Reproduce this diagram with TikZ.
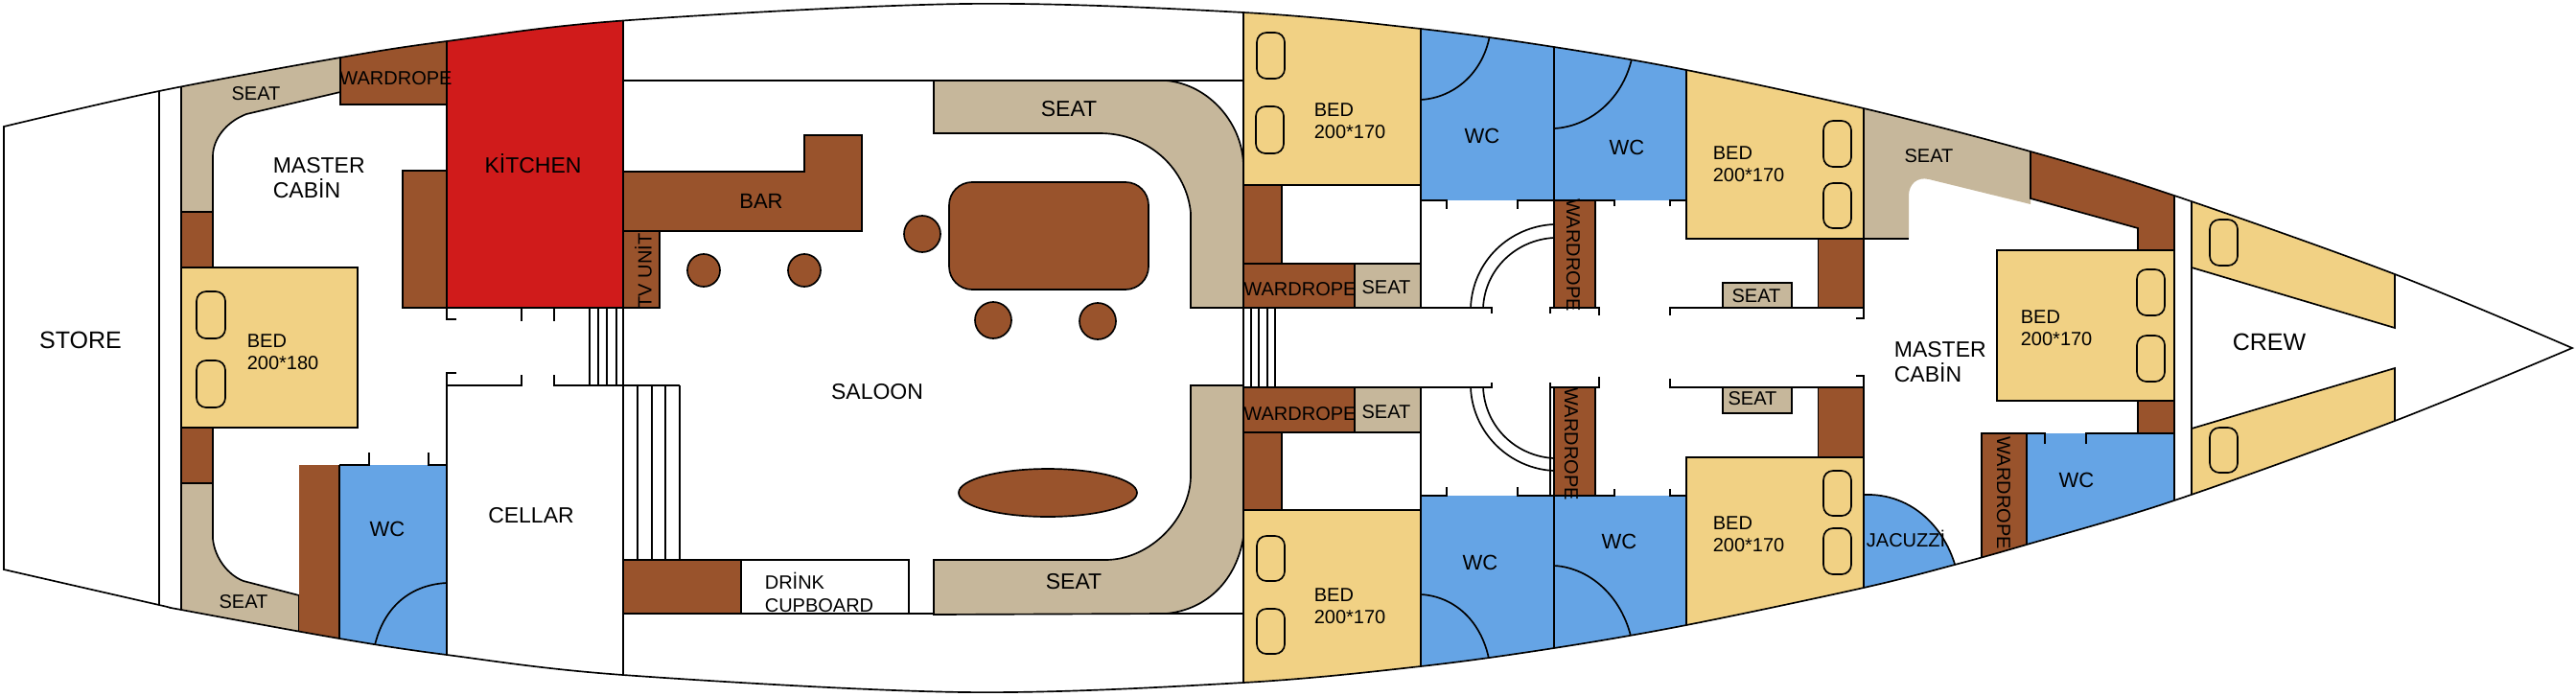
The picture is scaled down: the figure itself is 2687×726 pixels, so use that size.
\documentclass[tikz,border=0pt]{standalone}
\usepackage{fontspec}
\setmainfont{Liberation Sans}

\definecolor{woodbrown}{RGB}{153,83,44}
\definecolor{galleyred}{RGB}{208,27,27}
\definecolor{bedyellow}{RGB}{241,209,132}
\definecolor{seattan}{RGB}{198,183,155}
\definecolor{wcblue}{RGB}{101,164,229}

\tikzset{every picture/.style={line width=1.25pt}}
\tikzset{
  wood/.style={draw,fill=woodbrown},
  berth/.style={draw,fill=bedyellow},
  seatpart/.style={draw,fill=seattan},
  pillow/.style={draw,rounded corners=7.5},
  stool/.style={draw,fill=woodbrown},
  lbl/.style={inner sep=0.75pt,yshift=-1pt,font=\fontsize{15}{18}\selectfont},
  wclbl/.style={inner sep=0.75pt,yshift=-1pt,font=\fontsize{16.5}{18}\selectfont},
  midlbl/.style={inner sep=0.75pt,yshift=-1pt,font=\fontsize{17.25}{19.5}\selectfont},
  biglbl/.style={inner sep=0.75pt,yshift=-1pt,font=\fontsize{18.75}{21}\selectfont},
  bedlbl/.style={lbl,anchor=west,align=left,font=\fontsize{15}{17.25}\selectfont}
}
\newcommand{\hullpath}{plot [smooth,tension=0.55] coordinates {(4,132) (166,95) (355,60) (466,43) (650,21.5) (1006,4) (1297,13) (1482,30) (1621,49) (1759,73) (1944,113) (2118,158) (2268,204) (2498,286) (2683,363)}
  -- plot [smooth,tension=0.55] coordinates {(2683,363) (2498,439) (2268,522) (2114,568) (2039,589) (1944,613) (1759,652) (1621,676) (1482,695) (1297,712) (1006,722) (650,704) (466,683) (354,666) (189,636) (166,631) (4,594)} -- cycle}

\begin{document}
\begin{tikzpicture}[x=0.75pt,y=0.75pt,yscale=-1,xscale=1]
\useasboundingbox (0,0) rectangle (2687,726);

\begin{scope}
\clip \hullpath;
%Straight Lines: store bulkheads
\draw (166,0) -- (166,726);
\draw (650,402) -- (650,726);
\draw (466,402) -- (466,726);
\draw (2268,0) -- (2268,726);
\draw (2286,0) -- (2286,726);
%Shape: aft cabin seats
\draw [seatpart] (189,0) -- (355,0) -- (355,96) -- (257,119) .. controls (236,127) and (222,145) .. (222,163) -- (222,221) -- (189,221) -- cycle;
\draw [seatpart] (189,726) -- (189,504) -- (222,504) -- (222,562) .. controls (224,582) and (238,600) .. (254,606) -- (312,621) -- (312,726) -- cycle;
\draw [wood] (189,221) rectangle (222,279);
\draw [wood] (189,446) rectangle (222,504);
\draw [wood] (355,0) rectangle (466,109);
\draw [wood] (420,178) rectangle (466,321);
%Shape: Kitchen
\draw [draw,fill=galleyred] (466,0) rectangle (650,321);
%Shape: aft bed
\draw [berth] (189,279) rectangle (373,446);
\draw [pillow] (205,304) rectangle (235,353);
\draw [pillow] (205,376) rectangle (235,425);
%Shape: aft WC
\fill [woodbrown] (312,485) rectangle (354,726);
\fill [wcblue] (354,485) rectangle (466,726);
\draw (354,485) -- (354,726);
\draw (466,402) -- (466,726);
\draw (385,472) -- (385,485) -- (354,485);
\draw (447,472) -- (447,485) -- (466,485);
\draw (466,608) .. controls (426,610) and (394,636) .. (388,690);
%Straight Lines: saloon sides
\draw (650,84) -- (1297,84);
\draw (650,640) -- (1297,640);
%Shape: Bar
\draw [wood] (650,179) -- (839,179) -- (839,141) -- (899,141) -- (899,241) -- (650,241) -- cycle;
\draw [wood] (650,241) rectangle (688,321);
\draw [stool] (734,282) circle (17);
\draw [stool] (839,282) circle (17);
\draw [stool] (962,244) circle (19);
\draw [stool] (1036,334) circle (19);
\draw [stool] (1145,335) circle (19);
\draw [wood,rounded corners=18] (990,190) rectangle (1198,302);
\draw [wood] (1093,514) ellipse (93 and 25);
%Shape: saloon seats
\draw [seatpart] (974,84) -- (1216,84) .. controls (1262,88) and (1297,130) .. (1297,174) -- (1297,321) -- (1242,321) -- (1242,222) .. controls (1238,178) and (1200,139) .. (1147,139) -- (974,139) -- cycle;
\draw [seatpart] (974,584) -- (1153,584) .. controls (1200,584) and (1242,540) .. (1242,496) -- (1242,402) -- (1297,402) -- (1297,560) .. controls (1290,604) and (1260,636) .. (1216,640) -- (974,641) -- cycle;
\draw [wood] (650,584) rectangle (773,640);
\draw (773,584) rectangle (948,640);
%Shape: midship beds and wardrobes
\draw [berth] (1297,0) rectangle (1482,193);
\draw [pillow] (1311,34) rectangle (1340,82);
\draw [pillow] (1310,111) rectangle (1339,160);
\draw [wood] (1297,193) rectangle (1337,275);
\draw [wood] (1297,275) rectangle (1413,321);
\draw [seatpart] (1413,275) rectangle (1482,321);
\draw [wood] (1297,404) rectangle (1413,451);
\draw [seatpart] (1413,404) rectangle (1482,451);
\draw [wood] (1297,451) rectangle (1337,532);
\draw [berth] (1297,532) rectangle (1482,726);
\draw [pillow] (1311,559) rectangle (1340,606);
\draw [pillow] (1311,635) rectangle (1340,682);
%Shape: midship WCs
\fill [wcblue] (1482,0) rectangle (1759,209);
\fill [wcblue] (1482,517) rectangle (1759,726);
\draw (1482,0) -- (1482,321);
\draw (1482,404) -- (1482,726);
\draw [line width=1.5pt] (1621,0) -- (1621,209);
\draw [line width=1.5pt] (1621,517) -- (1621,726);
\draw (1482,104) .. controls (1518,102) and (1550,74) .. (1555,30);
\draw (1621,134) .. controls (1660,132) and (1698,100) .. (1704,50);
\draw (1482,620) .. controls (1518,622) and (1550,650) .. (1555,700);
\draw (1621,590) .. controls (1660,592) and (1698,626) .. (1704,680);
%Straight Lines: door stops at the passage
\draw (1482,209) -- (1509,209) -- (1509,218);
\draw (1583,218) -- (1583,209) -- (1621,209);
\draw (1664,209) -- (1684,209) -- (1684,215);
\draw (1742,215) -- (1742,209) -- (1759,209);
\draw (1482,517) -- (1509,517) -- (1509,508);
\draw (1583,508) -- (1583,517) -- (1621,517);
\draw (1664,517) -- (1684,517) -- (1684,510);
\draw (1742,510) -- (1742,517) -- (1759,517);
\draw (1482,321) -- (1556,321) -- (1556,327);
\draw (1617,327) -- (1617,321) -- (1668,321) -- (1668,329);
\draw (1742,329) -- (1742,321) -- (1944,321) -- (1944,332) -- (1936,332);
\draw (1482,404) -- (1556,404) -- (1556,399);
\draw (1617,517) -- (1617,399);
\draw (1617,404) -- (1668,404) -- (1668,393);
\draw (1742,395) -- (1742,404) -- (1944,404) -- (1944,392) -- (1936,392);
\draw [wood] (1621,209) rectangle (1664,321);
\draw [wood] (1621,404) rectangle (1664,517);
%Curve Lines: passage arcs
\draw (1621,234) .. controls (1575,236) and (1536,272) .. (1534,321);
\draw (1621,248) .. controls (1582,250) and (1549,280) .. (1547,321);
\draw (1621,478) .. controls (1582,476) and (1549,446) .. (1547,404);
\draw (1621,491) .. controls (1575,489) and (1536,452) .. (1534,404);
%Shape: forward beds
\draw [berth] (1759,0) rectangle (1944,249);
\draw [pillow] (1902,126) rectangle (1931,174);
\draw [pillow] (1902,191) rectangle (1931,238);
\draw [wood] (1896.5,249) rectangle (1944,321);
\draw [seatpart] (1797,295) rectangle (1869,321);
\draw [berth] (1759,477) rectangle (1944,726);
\draw [pillow] (1902,491) rectangle (1931,538);
\draw [pillow] (1902,551) rectangle (1931,599);
\draw [wood] (1896.5,404) rectangle (1944,477);
\draw [seatpart] (1797,404) rectangle (1869,431);
%Shape: Jacuzzi
\draw [fill=wcblue] (1944,726) -- (1944,516) .. controls (1995,514) and (2032,552) .. (2042,600) -- (2042,726) -- cycle;
%Shape: master cabin forward
\draw [seatpart,draw=none] (1944,0) -- (2118,0) -- (2118,213) -- (2012,187) .. controls (2000,184) and (1991,192) .. (1991,204) -- (1991,249) -- (1944,249) -- cycle;
\draw (1944,249) -- (1991,249);
\draw (1944,0) -- (1944,249);
\draw [wood] (2118,0) -- (2268,0) -- (2268,261) -- (2230,261) -- (2230,238) -- (2118,207) -- cycle;
\draw [wood] (2230,418) rectangle (2268,452);
\draw [berth] (2083,261) rectangle (2268,418);
\draw [pillow] (2229,281) rectangle (2258,329);
\draw [pillow] (2229,350) rectangle (2258,398);
\draw [wood] (2067,452) rectangle (2114,726);
\fill [wcblue] (2114,452) rectangle (2268,726);
\draw (2114,452) -- (2114,726);
\draw (2268,452) -- (2268,726);
\draw (2114,452) -- (2133,452) -- (2133,463);
\draw (2176,463) -- (2176,452) -- (2268,452);
%Shape: crew berths
\draw [berth] (2286,100) -- (2498,100) -- (2498,342) -- (2286,279) -- cycle;
\draw [berth] (2286,447) -- (2498,384) -- (2498,600) -- (2286,600) -- cycle;
\draw [pillow] (2305,229) rectangle (2334,277);
\draw [pillow] (2305,446) rectangle (2334,493);
%Straight Lines: cellar top and stairs
\draw (476,389) -- (466,389) -- (466,402) -- (544,402) -- (544,391);
\draw (578,391) -- (578,402) -- (709,402);
\draw (476,333) -- (466,333) -- (466,321);
\draw (544,321) -- (544,335);
\draw (578,321) -- (578,335);
\foreach \sx in {615,624,633,643,650} {\draw (\sx,321) -- (\sx,402);}
\foreach \sx in {665,680,694,709} {\draw (\sx,402) -- (\sx,584);}
\draw (650,402) -- (650,584);
\foreach \sx in {1297,1305,1313,1322,1330} {\draw (\sx,321) -- (\sx,404);}
\end{scope}

%Hull
\draw \hullpath;

% Text Node
\draw (84,354) node (store) [biglbl] {STORE};
\draw (267,96) node (seatAftUp) [lbl] {SEAT};
\draw (254,626) node (seatAftLow) [lbl] {SEAT};
\draw (413,80) node (wardAft) [lbl] {WARDROPE};
\draw (283,184) node (masterAft) [midlbl,anchor=west,align=left] {MASTER\\CABİN};
\draw (556,169) node (kitchen) [midlbl] {KİTCHEN};
\draw (256,365.5) node (bedAft) [bedlbl] {BED\\200*180};
\draw (404,551) node (wcAft) [wclbl] {WC};
\draw (554,536) node (cellar) [midlbl] {CELLAR};
\draw (794,209) node (bar) [wclbl] {BAR};
\draw (671,281) node (tvunit) [lbl,rotate=90] {TV UNİT};
\draw (915,407) node (saloon) [midlbl] {SALOON};
\draw (796,617) node (cupboard) [lbl,anchor=west,align=left] {DRİNK\\CUPBOARD};
\draw (1115,112) node (seatUp) [midlbl] {SEAT};
\draw (1120,605) node (seatLow) [midlbl] {SEAT};
\draw (1356,300) node (wardUp) [lbl] {WARDROPE};
\draw (1446,298) node (seatMidUp) [lbl] {SEAT};
\draw (1356,430) node (wardLow) [lbl] {WARDROPE};
\draw (1446,428) node (seatMidLow) [lbl] {SEAT};
\draw (1369,124.5) node (bedUp) [bedlbl] {BED\\200*170};
\draw (1369,631) node (bedLow) [bedlbl] {BED\\200*170};
\draw (1546,141) node (wcUpA) [wclbl] {WC};
\draw (1697,153) node (wcUpB) [wclbl] {WC};
\draw (1544,586) node (wcLowA) [wclbl] {WC};
\draw (1689,564) node (wcLowB) [wclbl] {WC};
\draw (1641,265) node (wardPassUp) [lbl,rotate=-90] {WARDROPE};
\draw (1639,462) node (wardPassLow) [lbl,rotate=-90] {WARDROPE};
\draw (1785,170) node (bedFwdUp) [bedlbl] {BED\\200*170};
\draw (1785,555.5) node (bedFwdLow) [bedlbl] {BED\\200*170};
\draw (1832,307) node (seatSmallUp) [lbl] {SEAT};
\draw (1828,414) node (seatSmallLow) [lbl] {SEAT};
\draw (2012,161) node (seatFwd) [lbl] {SEAT};
\draw (1988,561) node (jacuzzi) [lbl] {JACUZZİ};
\draw (1974,376.5) node (masterFwd) [midlbl,anchor=west,align=left] {MASTER\\CABİN};
\draw (2106,340.5) node (bedFwd) [bedlbl] {BED\\200*170};
\draw (2090,513) node (wardFwd) [lbl,rotate=-90] {WARDROPE};
\draw (2166,500) node (wcFwd) [wclbl] {WC};
\draw (2367,356) node (crew) [biglbl] {CREW};

\end{tikzpicture}
\end{document}
